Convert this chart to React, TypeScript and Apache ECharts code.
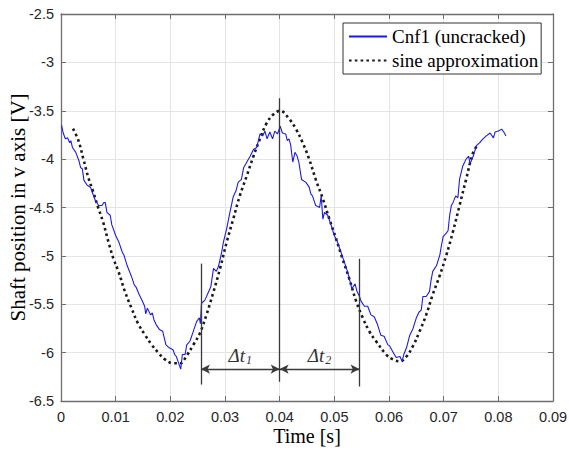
import React, { useEffect, useRef } from "react";
import * as echarts from "echarts";

// Measured shaft position (Cnf1, uncracked)
const measuredT = [
  0.0001, 0.0004, 0.0008, 0.0012, 0.0016, 0.0018, 0.0021, 0.0027, 0.0033, 0.0036, 0.0039, 0.0042, 0.0048,
  0.0054, 0.0057, 0.0063, 0.0069, 0.0075, 0.0078, 0.0081, 0.0084, 0.009, 0.0093, 0.01, 0.0106, 0.0112,
  0.0115, 0.0121, 0.013, 0.0134, 0.0137, 0.0143, 0.0149, 0.0153, 0.0155, 0.0158, 0.0164, 0.0167, 0.017,
  0.0174, 0.018, 0.0186, 0.0189, 0.0192, 0.0198, 0.0205, 0.0208, 0.0211, 0.0214, 0.0219, 0.0222, 0.0227,
  0.023, 0.0236, 0.0242, 0.0248, 0.0253, 0.0255, 0.0257, 0.0263, 0.027, 0.0274, 0.0279, 0.0284, 0.0288,
  0.0294, 0.0297, 0.0303, 0.0309, 0.0315, 0.032, 0.0324, 0.033, 0.0334, 0.034, 0.0346, 0.0352, 0.0358,
  0.0364, 0.0369, 0.0373, 0.0377, 0.0382, 0.0387, 0.0391, 0.0396, 0.0401, 0.0405, 0.0411, 0.0414, 0.0417,
  0.042, 0.0424, 0.0428, 0.0432, 0.0435, 0.044, 0.0448, 0.0454, 0.0457, 0.046, 0.0466, 0.0473, 0.0476,
  0.0479, 0.0482, 0.0488, 0.0494, 0.05, 0.0506, 0.0512, 0.0518, 0.0524, 0.0529, 0.0532, 0.0538, 0.0541,
  0.0546, 0.0549, 0.0555, 0.0561, 0.0567, 0.0573, 0.0579, 0.0585, 0.0591, 0.0598, 0.0601, 0.0607, 0.0613,
  0.062, 0.0624, 0.0627, 0.0632, 0.0638, 0.0644, 0.065, 0.0655, 0.0659, 0.0662, 0.0668, 0.0674, 0.0677,
  0.068, 0.0687, 0.0693, 0.0696, 0.0699, 0.0704, 0.0708, 0.0711, 0.0714, 0.0717, 0.0722, 0.0726, 0.0729,
  0.0735, 0.0741, 0.0746, 0.0748, 0.0754, 0.076, 0.0766, 0.0772, 0.0778, 0.0785, 0.0791, 0.0794, 0.08,
  0.0806, 0.081, 0.0814,
];
const measuredV = [
  -3.65, -3.73, -3.79, -3.78, -3.83, -3.81, -3.88, -3.93, -4.02, -4.09, -4.1, -4.22, -4.27,
  -4.29, -4.34, -4.43, -4.48, -4.48, -4.45, -4.45, -4.55, -4.58, -4.68, -4.79, -4.86, -4.96,
  -4.99, -5.1, -5.23, -5.3, -5.32, -5.4, -5.47, -5.52, -5.6, -5.54, -5.61, -5.59, -5.66,
  -5.71, -5.76, -5.78, -5.85, -5.92, -5.95, -5.97, -6.02, -6.04, -6.09, -6.17, -6.02, -6.02,
  -5.92, -5.88, -5.78, -5.68, -5.64, -5.7, -5.49, -5.46, -5.37, -5.32, -5.13, -5.16, -5.11,
  -4.96, -4.86, -4.72, -4.55, -4.39, -4.33, -4.24, -4.21, -4.09, -4.03, -3.97, -3.9, -3.88,
  -3.74, -3.76, -3.71, -3.79, -3.72, -3.79, -3.71, -3.74, -3.66, -3.73, -3.74, -3.81, -3.79,
  -3.85, -4.03, -3.93, -3.97, -4.03, -4.21, -4.24, -4.29, -4.36, -4.38, -4.48, -4.5, -4.38,
  -4.62, -4.55, -4.58, -4.68, -4.79, -4.86, -4.96, -5.06, -5.16, -5.27, -5.34, -5.29, -5.36,
  -5.42, -5.47, -5.52, -5.52, -5.61, -5.63, -5.71, -5.82, -5.83, -5.92, -5.93, -5.99, -6.05,
  -6.04, -6.09, -6.02, -5.95, -5.82, -5.75, -5.64, -5.58, -5.56, -5.42, -5.42, -5.37, -5.25,
  -5.16, -5.1, -4.99, -4.89, -4.8, -4.77, -4.74, -4.58, -4.48, -4.45, -4.38, -4.4, -4.21,
  -4.07, -4.0, -3.97, -4.05, -3.97, -3.86, -3.83, -3.79, -3.76, -3.73, -3.78, -3.72, -3.71,
  -3.69, -3.72, -3.76,
];

// Sine approximation
const sineT = [
  0.0022, 0.0032, 0.0041, 0.005, 0.0059, 0.0068, 0.0077, 0.0087, 0.0096, 0.0105, 0.0117, 0.0129, 0.0141,
  0.0154, 0.0166, 0.0178, 0.019, 0.0205, 0.0218, 0.023, 0.0242, 0.0254, 0.0266, 0.0279, 0.0291, 0.0303,
  0.0315, 0.0327, 0.034, 0.0352, 0.0364, 0.0376, 0.0388, 0.0401, 0.0418, 0.043, 0.0442, 0.0454, 0.0466,
  0.0479, 0.0491, 0.0503, 0.0515, 0.0527, 0.054, 0.0552, 0.0564, 0.0576, 0.0595, 0.0607, 0.062, 0.0632,
  0.0644, 0.0656, 0.0668, 0.068, 0.0693, 0.0705, 0.0717, 0.0729, 0.0741, 0.0754, 0.0763,
];
const sineV = [
  -3.685, -3.81, -4.0, -4.19, -4.34, -4.5, -4.65, -4.86, -5.03, -5.16, -5.37, -5.54, -5.7,
  -5.82, -5.92, -6.0, -6.07, -6.11, -6.11, -6.03, -5.92, -5.8, -5.61, -5.37, -5.13, -4.86,
  -4.62, -4.38, -4.17, -3.97, -3.79, -3.63, -3.54, -3.5, -3.59, -3.69, -3.83, -4.0, -4.21,
  -4.41, -4.62, -4.82, -5.03, -5.23, -5.47, -5.64, -5.78, -5.88, -6.02, -6.07, -6.09, -6.04,
  -5.93, -5.78, -5.61, -5.4, -5.2, -4.99, -4.75, -4.48, -4.21, -3.93, -3.85,
];

// Annotation: marker lines and Δt arrows
const markerTimes = [0.0256, 0.04, 0.0546];
const markerTops = [-5.08, -3.37, -5.03];
const markerBottoms = [-6.33, -6.3, -6.35];
const arrowLevel = -6.17;
const arrowLabels = ["{a|Δt}{s|1}", "{a|Δt}{s|2}"];

const seriesNames = ["Cnf1 (uncracked)", "sine approximation"];

const SERIF = "'Liberation Serif', 'Times New Roman', serif";
const SANS = "'Liberation Sans', Arial, sans-serif";

export default function App() {
  const ref = useRef<HTMLDivElement>(null);
  useEffect(() => {
    document.body.style.margin = "0";
    if (!ref.current) return;
    const chart = echarts.init(ref.current, undefined, { renderer: "svg" });
    const measured = measuredT.map((t, i) => [t, measuredV[i]]);
    const sine = sineT.map((t, i) => [t, sineV[i]]);
    const vLines = markerTimes.map((t, i) => [
      { coord: [t, markerTops[i]] },
      { coord: [t, markerBottoms[i]] },
    ]);
    const arrows = [0, 1].map((i) => [
      {
        coord: [markerTimes[i], arrowLevel],
        label: { formatter: arrowLabels[i] },
      },
      { coord: [markerTimes[i + 1], arrowLevel] },
    ]);
    const axisColor = "#6e6e6e";
    const gridColor = "#e4e4e4";
    const fmtX = (v: number) => (Math.abs(v) < 1e-9 ? "0" : v.toFixed(2));
    const fmtY = (v: number) => String(Math.round(v * 10) / 10);
    chart.setOption({
      animation: false,
      backgroundColor: "#fff",
      grid: { left: 61, right: 16, top: 14, bottom: 49, containLabel: false, outerBoundsMode: "none" },
      legend: {
        left: 343,
        top: 23,
        orient: "vertical",
        data: seriesNames,
        itemWidth: 38,
        itemHeight: 14,
        itemGap: 5,
        itemTextGap: 2,
        padding: [4, 3, 4, 5],
        borderColor: "#333",
        borderWidth: 1,
        backgroundColor: "#fff",
        itemStyle: { opacity: 0 },
        textStyle: { fontFamily: SERIF, fontSize: 19, color: "#000" },
      },
      xAxis: [
        {
          type: "value",
          min: 0,
          max: 0.09,
          interval: 0.01,
          name: "Time [s]",
          nameLocation: "middle",
          nameGap: 25,
          nameMoveOverlap: false,
          nameTextStyle: { fontFamily: SERIF, fontSize: 20, color: "#000" },
          axisLine: { show: true, onZero: false, lineStyle: { color: axisColor, width: 1.3 } },
          axisTick: { show: true, inside: true, length: 5, lineStyle: { color: axisColor } },
          axisLabel: { fontFamily: SANS, fontSize: 14.5, color: "#262626", margin: 8, formatter: fmtX },
          splitLine: { show: true, lineStyle: { color: gridColor, width: 1 } },
        },
        {
          type: "value",
          position: "top",
          min: 0,
          max: 0.09,
          interval: 0.01,
          axisLine: { show: true, onZero: false, lineStyle: { color: axisColor, width: 1.3 } },
          axisTick: { show: true, inside: true, length: 5, lineStyle: { color: axisColor } },
          axisLabel: { show: false },
          splitLine: { show: false },
        },
      ],
      yAxis: [
        {
          type: "value",
          min: -6.5,
          max: -2.5,
          interval: 0.5,
          name: "Shaft position in v axis [V]",
          nameLocation: "middle",
          nameGap: 33,
          nameMoveOverlap: false,
          nameTextStyle: { fontFamily: SERIF, fontSize: 21, color: "#000" },
          axisLine: { show: true, onZero: false, lineStyle: { color: axisColor, width: 1.3 } },
          axisTick: { show: true, inside: true, length: 5, lineStyle: { color: axisColor } },
          axisLabel: { fontFamily: SANS, fontSize: 14.5, color: "#262626", margin: 7, formatter: fmtY },
          splitLine: { show: true, lineStyle: { color: gridColor, width: 1 } },
        },
        {
          type: "value",
          position: "right",
          min: -6.5,
          max: -2.5,
          interval: 0.5,
          axisLine: { show: true, onZero: false, lineStyle: { color: axisColor, width: 1.3 } },
          axisTick: { show: true, inside: true, length: 5, lineStyle: { color: axisColor } },
          axisLabel: { show: false },
          splitLine: { show: false },
        },
      ],
      series: [
        {
          name: seriesNames[0],
          type: "line",
          data: measured,
          showSymbol: false,
          symbol: "none",
          lineStyle: { color: "#1c1ce0", width: 1.1 },
          itemStyle: { color: "#1c1ce0" },
          z: 3,
          markLine: {
            silent: true,
            symbol: ["none", "none"],
            lineStyle: { color: "#3a3a3a", width: 1.3, type: "solid" },
            label: { show: false },
            data: vLines,
          },
        },
        {
          name: seriesNames[1],
          type: "line",
          data: sine,
          smooth: 0.4,
          showSymbol: false,
          symbol: "none",
          lineStyle: { color: "#1a1a1a", width: 2.6, type: [2.6, 3.2], cap: "butt" },
          itemStyle: { color: "#1a1a1a" },
          z: 2,
          markLine: {
            silent: true,
            symbol: ["arrow", "arrow"],
            symbolSize: [7, 9],
            lineStyle: { color: "#3a3a3a", width: 1.3, type: "solid" },
            label: {
              show: true,
              position: "insideMiddleTop",
              distance: 3,
              rich: {
                a: { fontFamily: SERIF, fontStyle: "italic", fontSize: 19, color: "#333" },
                s: {
                  fontFamily: SERIF,
                  fontStyle: "italic",
                  fontSize: 12,
                  color: "#333",
                  padding: [10, 0, 0, 1],
                },
              },
            },
            data: arrows,
          },
        },
      ],
    });
    return () => chart.dispose();
  }, []);
  return <div ref={ref} style={{ width: 569, height: 450 }} />;
}
